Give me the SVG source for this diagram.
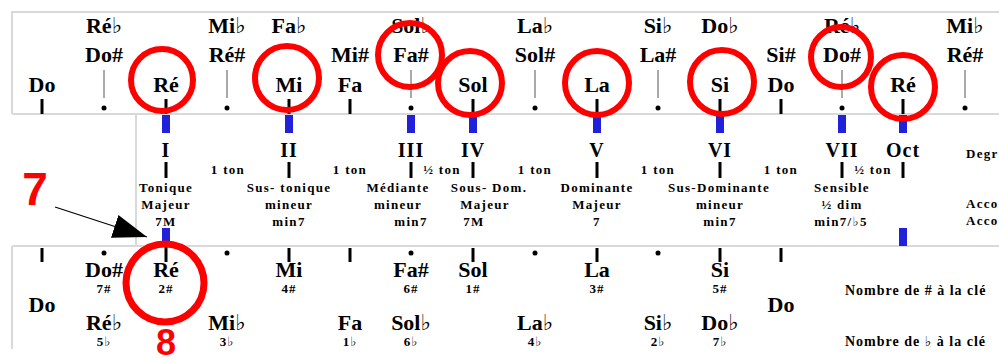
<svg xmlns="http://www.w3.org/2000/svg" width="999" height="363" viewBox="0 0 999 363">
<defs>
<style>
text{font-family:"Liberation Serif","DejaVu Serif",serif;font-weight:bold;fill:#000}
.n{font-size:22px;text-anchor:middle}
.r{font-size:20px;text-anchor:middle;letter-spacing:1px}
.s{font-size:13px;text-anchor:middle;letter-spacing:1.3px}
.k{font-size:13px;text-anchor:middle;letter-spacing:1px}
.lb{font-size:14px;letter-spacing:1px}
.rt{font-size:13px;letter-spacing:1.3px}
.red{font-family:"Liberation Sans",Arial,sans-serif;font-size:46px;fill:#f00;text-anchor:middle}
.frame{stroke:#d9d9d9;stroke-width:2;fill:none}
.tk{stroke:#000;stroke-width:3}
.th{stroke:#555;stroke-width:1}
.bl{fill:#2121dc}
.c{fill:none;stroke:#f00;stroke-width:6}
</style>
<marker id="ah" markerUnits="userSpaceOnUse" markerWidth="36" markerHeight="26" refX="34" refY="12" orient="auto">
<path d="M0,0 L34,12 L0,24 Z" fill="#000"/>
</marker>
</defs>
<rect width="999" height="363" fill="#fff"/>

<g id="frames">
<path class="frame" d="M12,114 V12 H999 M12,114 H999 M136,114 V246 M12,246 H999 M12,246 V349"/>
</g>

<g id="top-row">
<g id="t-do"><path class="tk" d="M42,99V114"/><text class="n" x="42" y="92">Do</text></g>
<g id="t-do-s"><path class="th" d="M104,70V98"/><circle cx="104" cy="108" r="2.5"/><text class="n" x="104" y="33">Ré♭</text><text class="n" x="104" y="62">Do#</text></g>
<g id="t-re"><path class="tk" d="M166,99V114"/><text class="n" x="166" y="92">Ré</text></g>
<g id="t-re-s"><path class="th" d="M227,70V98"/><circle cx="227" cy="108" r="2.5"/><text class="n" x="227" y="33">Mi♭</text><text class="n" x="227" y="62">Ré#</text></g>
<g id="t-mi"><path class="tk" d="M289,99V114"/><text class="n" x="289" y="33">Fa♭</text><text class="n" x="289" y="92">Mi</text></g>
<g id="t-fa"><path class="tk" d="M350,99V114"/><text class="n" x="350" y="62">Mi#</text><text class="n" x="350" y="92">Fa</text></g>
<g id="t-fa-s"><path class="th" d="M411,70V98"/><circle cx="411" cy="108" r="2.5"/><text class="n" x="411" y="33">Sol♭</text><text class="n" x="411" y="62">Fa#</text></g>
<g id="t-sol"><path class="tk" d="M473,99V114"/><text class="n" x="473" y="92">Sol</text></g>
<g id="t-sol-s"><path class="th" d="M535,70V98"/><circle cx="535" cy="108" r="2.5"/><text class="n" x="535" y="33">La♭</text><text class="n" x="535" y="62">Sol#</text></g>
<g id="t-la"><path class="tk" d="M597,99V114"/><text class="n" x="597" y="92">La</text></g>
<g id="t-la-s"><path class="th" d="M658,70V98"/><circle cx="658" cy="108" r="2.5"/><text class="n" x="658" y="33">Si♭</text><text class="n" x="658" y="62">La#</text></g>
<g id="t-si"><path class="tk" d="M720,99V114"/><text class="n" x="720" y="33">Do♭</text><text class="n" x="720" y="92">Si</text></g>
<g id="t-do2"><path class="tk" d="M781,99V114"/><text class="n" x="781" y="62">Si#</text><text class="n" x="781" y="92">Do</text></g>
<g id="t-do2-s"><path class="th" d="M842,70V98"/><circle cx="842" cy="108" r="2.5"/><text class="n" x="842" y="33">Ré♭</text><text class="n" x="842" y="62">Do#</text></g>
<g id="t-re2"><path class="tk" d="M903,99V114"/><text class="n" x="903" y="92">Ré</text></g>
<g id="t-re2-s"><path class="th" d="M965,70V98"/><circle cx="965" cy="108" r="2.5"/><text class="n" x="965" y="33">Mi♭</text><text class="n" x="965" y="62">Ré#</text></g>
</g>

<g id="degrees">
<g id="d1"><rect class="bl" x="162" y="115" width="8" height="18"/><text class="r" x="166" y="157">I</text><path class="tk" d="M166,162V178"/><text class="s" x="166" y="192">Tonique</text><text class="s" x="166" y="209">Majeur</text><text class="s" x="166" y="226">7M</text><rect class="bl" x="162" y="228" width="8" height="18"/></g>
<g id="d2"><rect class="bl" x="285" y="115" width="8" height="18"/><text class="r" x="289" y="157">II</text><path class="tk" d="M289,162V178"/><text class="s" x="289" y="192">Sus- tonique</text><text class="s" x="289" y="209">mineur</text><text class="s" x="289" y="226">min7</text></g>
<g id="d3"><rect class="bl" x="407" y="115" width="8" height="18"/><text class="r" x="411" y="157">III</text><path class="tk" d="M411,162V178"/><text class="s" x="398" y="192">Médiante</text><text class="s" x="398" y="209">mineur</text><text class="s" x="411" y="226">min7</text></g>
<g id="d4"><rect class="bl" x="469" y="115" width="8" height="18"/><text class="r" x="473" y="157">IV</text><path class="tk" d="M473,162V178"/><text class="s" x="489" y="192">Sous- Dom.</text><text class="s" x="485" y="209">Majeur</text><text class="s" x="474" y="226">7M</text></g>
<g id="d5"><rect class="bl" x="593" y="115" width="8" height="18"/><text class="r" x="597" y="157">V</text><path class="tk" d="M597,162V178"/><text class="s" x="597" y="192">Dominante</text><text class="s" x="597" y="209">Majeur</text><text class="s" x="597" y="226">7</text></g>
<g id="d6"><rect class="bl" x="716" y="115" width="8" height="18"/><text class="r" x="720" y="157">VI</text><path class="tk" d="M720,162V178"/><text class="s" x="719" y="192">Sus-Dominante</text><text class="s" x="720" y="209">mineur</text><text class="s" x="720" y="226">min7</text></g>
<g id="d7"><rect class="bl" x="838" y="115" width="8" height="18"/><text class="r" x="842" y="157">VII</text><path class="tk" d="M842,162V178"/><text class="s" x="842" y="192">Sensible</text><text class="s" x="842" y="209">½ dim</text><text class="s" x="841" y="226">min7/♭5</text></g>
<g id="d8"><rect class="bl" x="899" y="115" width="8" height="18"/><text class="r" x="903" y="157">Oct</text><path class="tk" d="M903,162V178"/><rect class="bl" x="899" y="228" width="8" height="18"/></g>
<g id="intervals">
<text class="s" x="228" y="174">1 ton</text>
<text class="s" x="350" y="174">1 ton</text>
<text class="s" x="442" y="174">½ ton</text>
<text class="s" x="535" y="174">1 ton</text>
<text class="s" x="658" y="174">1 ton</text>
<text class="s" x="781" y="174">1 ton</text>
<text class="s" x="873" y="174">½ ton</text>
</g>
<g id="right-labels">
<text class="rt" x="966" y="158">Degr</text>
<text class="rt" x="966" y="208">Acco</text>
<text class="rt" x="966" y="225">Acco</text>
</g>
</g>

<g id="bottom-row">
<g id="b-do"><path class="tk" d="M42,248V262"/><text class="n" x="42" y="312">Do</text></g>
<g id="b-do-s"><circle cx="104" cy="253" r="2.5"/><text class="n" x="104" y="277">Do#</text><text class="k" x="104" y="293">7#</text><text class="n" x="104" y="330">Ré♭</text><text class="k" x="104" y="346">5♭</text></g>
<g id="b-re"><path class="tk" d="M166,247V262"/><text class="n" x="166" y="277">Ré</text><text class="k" x="166" y="293">2#</text></g>
<g id="b-re-s"><circle cx="227" cy="253" r="2.5"/><text class="n" x="227" y="330">Mi♭</text><text class="k" x="227" y="346">3♭</text></g>
<g id="b-mi"><path class="tk" d="M289,248V262"/><text class="n" x="289" y="277">Mi</text><text class="k" x="289" y="293">4#</text></g>
<g id="b-fa"><path class="tk" d="M350,248V262"/><text class="n" x="350" y="330">Fa</text><text class="k" x="350" y="346">1♭</text></g>
<g id="b-fa-s"><circle cx="411" cy="253" r="2.5"/><text class="n" x="411" y="277">Fa#</text><text class="k" x="411" y="293">6#</text><text class="n" x="411" y="330">Sol♭</text><text class="k" x="411" y="346">6♭</text></g>
<g id="b-sol"><path class="tk" d="M473,248V262"/><text class="n" x="473" y="277">Sol</text><text class="k" x="473" y="293">1#</text></g>
<g id="b-sol-s"><circle cx="535" cy="253" r="2.5"/><text class="n" x="535" y="330">La♭</text><text class="k" x="535" y="346">4♭</text></g>
<g id="b-la"><path class="tk" d="M597,248V262"/><text class="n" x="597" y="277">La</text><text class="k" x="597" y="293">3#</text></g>
<g id="b-la-s"><circle cx="658" cy="253" r="2.5"/><text class="n" x="658" y="330">Si♭</text><text class="k" x="658" y="346">2♭</text></g>
<g id="b-si"><path class="tk" d="M720,248V262"/><text class="n" x="720" y="277">Si</text><text class="k" x="720" y="293">5#</text><text class="n" x="720" y="330">Do♭</text><text class="k" x="720" y="346">7♭</text></g>
<g id="b-do2"><path class="tk" d="M781,248V262"/><text class="n" x="781" y="312">Do</text></g>
<g id="b-labels"><text class="lb" x="845" y="295">Nombre de # à la clé</text><text class="lb" x="845" y="346">Nombre de ♭ à la clé</text></g>
</g>

<g id="circles">
<circle class="c" cx="162" cy="80" r="31"/>
<circle class="c" cx="287" cy="78" r="32"/>
<circle class="c" cx="410" cy="55" r="32"/>
<circle class="c" cx="470" cy="83" r="32"/>
<circle class="c" cx="597" cy="83" r="32"/>
<circle class="c" cx="722" cy="82" r="32"/>
<circle class="c" cx="841" cy="57" r="30"/>
<circle class="c" cx="903" cy="87" r="32"/>
<circle class="c" cx="165" cy="283" r="39" style="stroke-width:7"/>
</g>

<g id="connectors">
<path d="M55,207 L147,237" stroke="#000" stroke-width="1.2" fill="none" marker-end="url(#ah)"/>
</g>

<g id="annotations">
<text class="red" x="35" y="205">7</text>
<text class="red" x="166" y="355" style="font-size:36px">8</text>
</g>
</svg>
